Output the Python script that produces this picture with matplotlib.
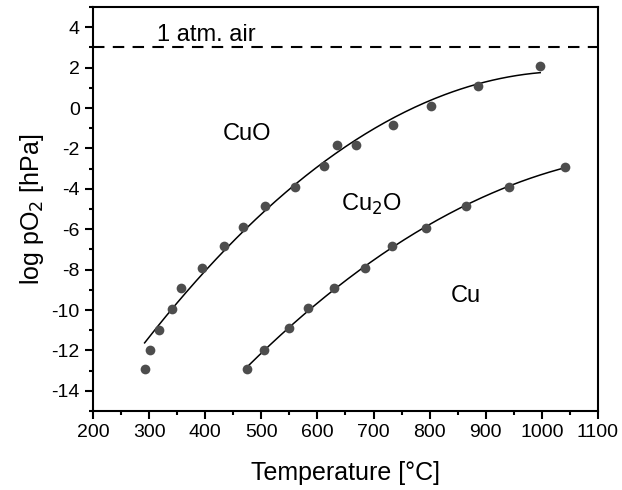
import numpy as np
import matplotlib
matplotlib.use('Agg')
import matplotlib.pyplot as plt
from matplotlib.ticker import MultipleLocator

plt.rcParams['font.family'] = ['Liberation Sans', 'DejaVu Sans']
plt.rcParams['axes.unicode_minus'] = False

# CuO / Cu2O boundary
t_cuo = [292, 302, 318, 340, 357, 394, 433, 467, 506, 560, 611, 634, 669, 735, 802, 887, 997]
p_cuo = [-12.9, -12.0, -11.0, -9.95, -8.9, -7.9, -6.85, -5.9, -4.85, -3.9, -2.85, -1.85, -1.85, -0.85, 0.1, 1.1, 2.1]

# Cu2O / Cu boundary
t_cu2o = [475, 504, 550, 584, 630, 684, 733, 794, 864, 941, 1042]
p_cu2o = [-12.9, -12.0, -10.9, -9.9, -8.9, -7.9, -6.85, -5.95, -4.85, -3.9, -2.9]

air_level = 3

fig = plt.figure(figsize=(6.22, 4.9), dpi=100)
ax = fig.add_axes([0.1495, 0.1612, 0.8119, 0.8245])

dot = '#4d4d4d'
ax.plot(t_cuo, p_cuo, 'o', color=dot, ms=7, mec='none', zorder=3)
ax.plot(t_cu2o, p_cu2o, 'o', color=dot, ms=7, mec='none', zorder=3)

# quadratic trend lines through the points
c1 = np.polyfit(t_cuo[1:], p_cuo[1:], 2)
x1 = np.linspace(t_cuo[0], t_cuo[-1], 200)
ax.plot(x1, np.polyval(c1, x1), color='black', lw=1.1, zorder=2)
c2 = np.polyfit(t_cu2o, p_cu2o, 2)
x2 = np.linspace(t_cu2o[0], t_cu2o[-1], 200)
ax.plot(x2, np.polyval(c2, x2), color='black', lw=1.1, zorder=2)

ax.axhline(air_level, color='black', lw=1.5, ls=(0, (5.5, 4)))

ax.text(314, 3.3, '1 atm. air', fontsize=17, ha='left', va='baseline')
ax.text(474, -1.3, 'CuO', fontsize=17, ha='center', va='center')
ax.text(697, -4.75, 'Cu$_2$O', fontsize=17, ha='center', va='center')
ax.text(865, -9.3, 'Cu', fontsize=17, ha='center', va='center')

ax.set_xlim(200, 1100)
ax.set_ylim(-15, 5)
ax.xaxis.set_major_locator(MultipleLocator(100))
ax.xaxis.set_minor_locator(MultipleLocator(50))
ax.yaxis.set_minor_locator(MultipleLocator(1))
ax.set_yticks(range(-14, 5, 2))
ax.tick_params(which='major', direction='out', length=6, width=1.5, labelsize=14)
ax.tick_params(which='minor', direction='out', length=3, width=1.5)
for s in ax.spines.values():
    s.set_linewidth(1.5)

ax.set_xlabel('Temperature [°C]', fontsize=18, labelpad=14)
ax.set_ylabel('log pO$_2$ [hPa]', fontsize=18, labelpad=4)

fig.savefig('out.png', dpi=100)
